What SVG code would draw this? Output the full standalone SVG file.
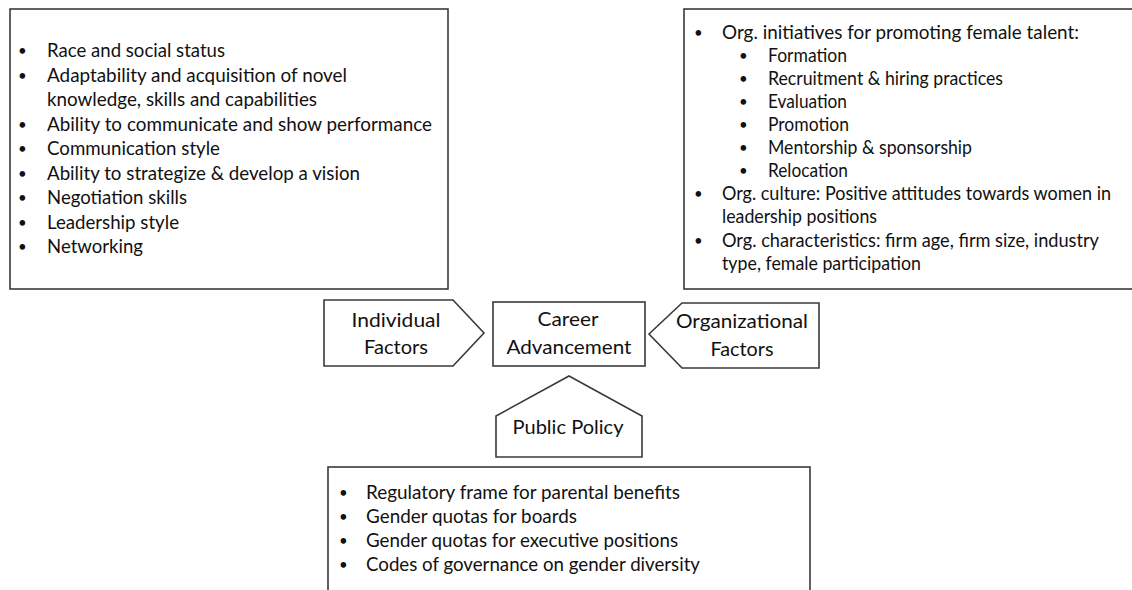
<svg xmlns="http://www.w3.org/2000/svg" width="1132" height="590" viewBox="0 0 1132 590">
<style>
.box{fill:#fff;stroke:#3a3a3a;stroke-width:1.6}
text{font-family:Lato,"Liberation Sans",sans-serif;font-size:19px;fill:#111}
.b text{font-size:15px}
.c{text-anchor:middle}
</style>
<rect width="1132" height="590" fill="#fff"/>
<g id="individual-list">
<rect class="box" x="10" y="9" width="438" height="280"/>
<g class="b"><text x="18" y="56">•</text><text x="18" y="80.5">•</text><text x="18" y="129.5">•</text><text x="18" y="154">•</text><text x="18" y="178.5">•</text><text x="18" y="203">•</text><text x="18" y="227.5">•</text><text x="18" y="252">•</text></g>
<text x="47" y="57" textLength="178" lengthAdjust="spacingAndGlyphs">Race and social status</text>
<text x="47" y="81.5" textLength="300" lengthAdjust="spacingAndGlyphs">Adaptability and acquisition of novel</text>
<text x="47" y="106" textLength="270" lengthAdjust="spacingAndGlyphs">knowledge, skills and capabilities</text>
<text x="47" y="130.5" textLength="385" lengthAdjust="spacingAndGlyphs">Ability to communicate and show performance</text>
<text x="47" y="155" textLength="173" lengthAdjust="spacingAndGlyphs">Communication style</text>
<text x="47" y="179.5" textLength="313" lengthAdjust="spacingAndGlyphs">Ability to strategize &amp; develop a vision</text>
<text x="47" y="204" textLength="140" lengthAdjust="spacingAndGlyphs">Negotiation skills</text>
<text x="47" y="228.5" textLength="132" lengthAdjust="spacingAndGlyphs">Leadership style</text>
<text x="47" y="253" textLength="96" lengthAdjust="spacingAndGlyphs">Networking</text>
</g>
<g id="organizational-list">
<rect class="box" x="684" y="9" width="460" height="280"/>
<g class="b"><text x="694" y="38">•</text><text x="739" y="61">•</text><text x="739" y="84">•</text><text x="739" y="107">•</text><text x="739" y="130">•</text><text x="739" y="153">•</text><text x="739" y="176">•</text><text x="694" y="199">•</text><text x="694" y="246">•</text></g>
<text x="722" y="39" textLength="357" lengthAdjust="spacingAndGlyphs">Org. initiatives for promoting female talent:</text>
<text x="768" y="62" textLength="79" lengthAdjust="spacingAndGlyphs">Formation</text>
<text x="768" y="85" textLength="235" lengthAdjust="spacingAndGlyphs">Recruitment &amp; hiring practices</text>
<text x="768" y="108" textLength="79" lengthAdjust="spacingAndGlyphs">Evaluation</text>
<text x="768" y="131" textLength="81" lengthAdjust="spacingAndGlyphs">Promotion</text>
<text x="768" y="154" textLength="204" lengthAdjust="spacingAndGlyphs">Mentorship &amp; sponsorship</text>
<text x="768" y="177" textLength="80" lengthAdjust="spacingAndGlyphs">Relocation</text>
<text x="722" y="200" textLength="389" lengthAdjust="spacingAndGlyphs">Org. culture: Positive attitudes towards women in</text>
<text x="722" y="223" textLength="155" lengthAdjust="spacingAndGlyphs">leadership positions</text>
<text x="722" y="247" textLength="377" lengthAdjust="spacingAndGlyphs">Org. characteristics: firm age, firm size, industry</text>
<text x="722" y="270" textLength="199" lengthAdjust="spacingAndGlyphs">type, female participation</text>
</g>
<g id="individual-factors">
<polygon class="box" points="324,300 453,300 484,333 453,366 324,366"/>
<text class="c" x="396" y="327" textLength="89" lengthAdjust="spacingAndGlyphs">Individual</text>
<text class="c" x="396" y="354" textLength="64" lengthAdjust="spacingAndGlyphs">Factors</text>
</g>
<g id="career-advancement">
<rect class="box" x="493" y="302" width="152" height="64"/>
<text class="c" x="568" y="326" textLength="61" lengthAdjust="spacingAndGlyphs">Career</text>
<text class="c" x="569" y="354" textLength="125" lengthAdjust="spacingAndGlyphs">Advancement</text>
</g>
<g id="organizational-factors">
<polygon class="box" points="649,334 682,303 819,303 819,368 682,368"/>
<text class="c" x="742" y="328" textLength="132" lengthAdjust="spacingAndGlyphs">Organizational</text>
<text class="c" x="742" y="356" textLength="63" lengthAdjust="spacingAndGlyphs">Factors</text>
</g>
<g id="public-policy">
<polygon class="box" points="569,376 642,416 642,457 496,457 496,416"/>
<text class="c" x="568" y="434" textLength="111" lengthAdjust="spacingAndGlyphs">Public Policy</text>
</g>
<g id="policy-list">
<rect class="box" x="328" y="467" width="482" height="140"/>
<g class="b"><text x="339" y="498">•</text><text x="339" y="522">•</text><text x="339" y="546">•</text><text x="339" y="570">•</text></g>
<text x="366" y="499" textLength="314" lengthAdjust="spacingAndGlyphs">Regulatory frame for parental benefits</text>
<text x="366" y="523" textLength="211" lengthAdjust="spacingAndGlyphs">Gender quotas for boards</text>
<text x="366" y="547" textLength="312" lengthAdjust="spacingAndGlyphs">Gender quotas for executive positions</text>
<text x="366" y="571" textLength="334" lengthAdjust="spacingAndGlyphs">Codes of governance on gender diversity</text>
</g>
<g id="connectors"></g>
</svg>
